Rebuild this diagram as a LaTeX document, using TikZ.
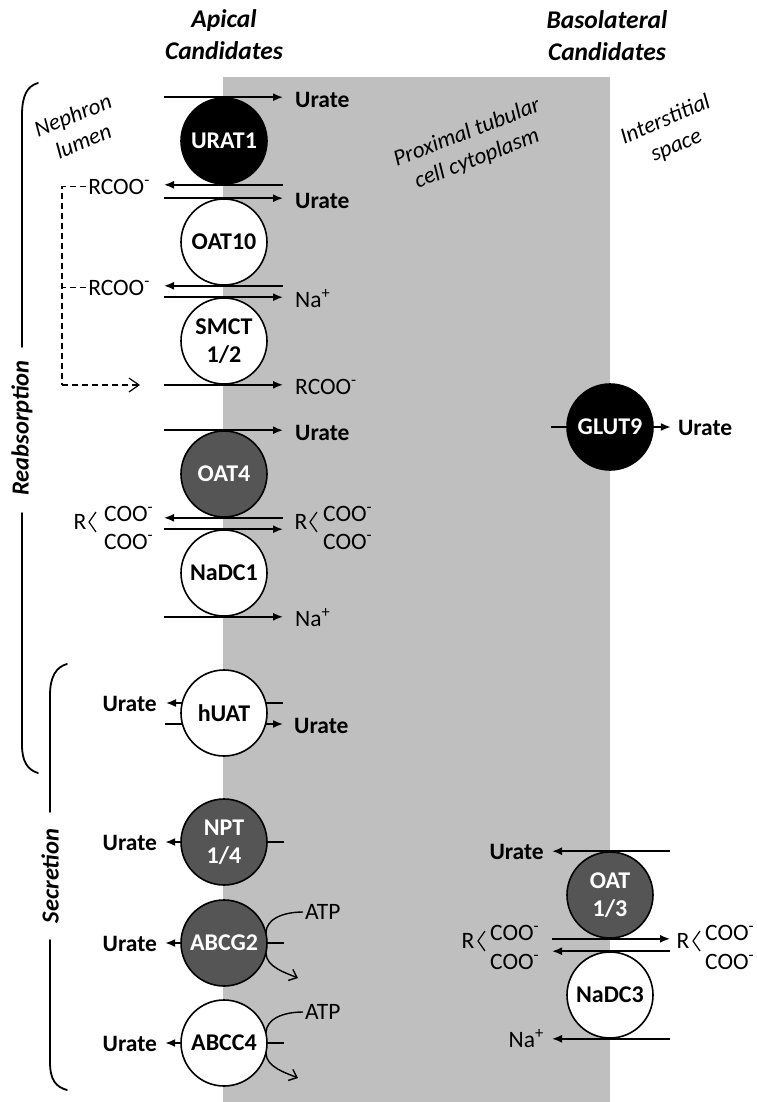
\documentclass[tikz,border=0pt]{standalone}
\usepackage{fontspec}
\setmainfont{Carlito}
\usetikzlibrary{arrows.meta,calc}
\definecolor{cellgray}{RGB}{191,191,191}
\definecolor{dkgray}{RGB}{85,85,85}
\begin{document}
\begin{tikzpicture}[x=1pt,y=-1pt,
  f/.style={font=\fontsize{23.5}{25}\selectfont, inner sep=2pt},
  bf/.style={font=\fontsize{23.5}{25}\selectfont\bfseries, inner sep=2pt},
  hd/.style={font=\fontsize{25.5}{32}\selectfont\bfseries\itshape, align=center},
  it/.style={font=\fontsize{23}{28}\selectfont\itshape, align=center},
  side/.style={font=\fontsize{24.5}{25}\selectfont\bfseries\itshape, rotate=90},
  tp/.style={circle, draw, line width=1.6pt, minimum size=86pt, inner sep=0pt, align=center, font=\fontsize{24}{28}\selectfont\bfseries},
  wt/.style={tp, fill=white},
  bk/.style={tp, fill=black, text=white},
  dk/.style={tp, fill=dkgray, text=white},
  arr/.style={line width=1.6pt, -{Latex[length=10pt,width=8pt]}},
  ln/.style={line width=1.6pt},
  chev/.style={line width=1.2pt},
  dsh/.style={line width=1.2pt, dash pattern=on 6pt off 4pt},
  brk/.style={line width=1.8pt, line cap=round},
  atpar/.style={line width=1.4pt, -{Straight Barb[length=7pt,width=12pt]}},
]
\useasboundingbox (0,0) rectangle (756,1102);
\fill[cellgray] (223,77) rectangle (610,1102);

% headings
\node[hd] (hap) at (224,35) {Apical\\Candidates};
\node[hd] (hbl) at (607,36) {Basolateral\\Candidates};
\node[it, rotate=22] (lum) at (78,128) {Nephron\\lumen};
\node[it, rotate=21] (cyt) at (472,146) {Proximal tubular\\cell cytoplasm};
\node[it, rotate=23] (int) at (671,133) {Interstitial\\space};

% brackets
\draw[brk] (38,83) .. controls (27,86) and (22,96) .. (22,115) -- (22,347);
\draw[brk] (22,513) -- (22,745) .. controls (22,762) and (28,770) .. (38,773);
\node[side] (reab) at (22,428) {Reabsorption};
\draw[brk] (67,664) .. controls (56,667) and (50,677) .. (50,695) -- (50,812);
\draw[brk] (50,940) -- (50,1062) .. controls (50,1080) and (56,1087) .. (67,1090);
\node[side] (secr) at (50,876) {Secretion};

% transporters
\node[bk] (urat) at (224,141) {URAT1};
\node[wt] (oat10) at (224,242) {OAT10};
\node[wt] (smct) at (224,341) {SMCT\\1/2};
\node[dk] (oat4) at (224,474) {OAT4};
\node[wt] (nadc1) at (224,573) {NaDC1};
\node[wt] (huat) at (224,713) {hUAT};
\node[dk] (npt) at (224,842) {NPT\\1/4};
\node[dk] (abcg) at (224,943) {ABCG2};
\node[wt] (abcc) at (224,1043) {ABCC4};
\node[bk] (glut) at (610,427) {GLUT9};
\node[dk] (oat13) at (610,895) {OAT\\1/3};
\node[wt] (nadc3) at (610,995) {NaDC3};

% URAT1
\draw[arr] ($(urat.north)+(-60,0)$) -- ($(urat.north)+(59,0)$);
\node[bf, anchor=west] (ur1) at ($(urat.north)+(69,3)$) {Urate};
\draw[arr] ($(urat.south)+(59,0)$) -- ($(urat.south)+(-60,0)$);
\node[f, anchor=east] (rc1) at ($(urat.south)+(-72,2)$) {RCOO\textsuperscript{-}};
% OAT10
\draw[arr] ($(oat10.north)+(-60,0)$) -- ($(oat10.north)+(59,0)$);
\node[bf, anchor=west] (ur2) at ($(oat10.north)+(69,3)$) {Urate};
\draw[arr] ($(oat10.south)+(59,0)$) -- ($(oat10.south)+(-60,0)$);
\node[f, anchor=east] (rc2) at ($(oat10.south)+(-72,2)$) {RCOO\textsuperscript{-}};
% SMCT
\draw[arr] ($(smct.north)+(-60,0)$) -- ($(smct.north)+(59,0)$);
\node[f, anchor=west] (na1) at ($(smct.north)+(69,1)$) {Na\textsuperscript{+}};
\draw[arr] ($(smct.south)+(-60,0)$) -- ($(smct.south)+(59,0)$);
\node[f, anchor=west] (rc3) at ($(smct.south)+(69,2)$) {RCOO\textsuperscript{-}};
% dashed recycling
\coordinate (dc) at (62,385);
\coordinate (da) at (140,385);
\draw[dsh] (rc1.west) -| (dc);
\draw[dsh] (rc2.west) -- (rc2.west -| dc);
\draw[dsh, -{Straight Barb[length=10pt,width=14pt]}] (dc) -- (da);
% OAT4
\draw[arr] ($(oat4.north)+(-60,0)$) -- ($(oat4.north)+(59,0)$);
\node[bf, anchor=west] (ur3) at ($(oat4.north)+(69,3)$) {Urate};
\draw[arr] ($(oat4.south)+(59,0)$) -- ($(oat4.south)+(-60,0)$);
% NaDC1
\draw[arr] ($(nadc1.north)+(-60,0)$) -- ($(nadc1.north)+(59,0)$);
\draw[arr] ($(nadc1.south)+(-60,0)$) -- ($(nadc1.south)+(59,0)$);
\node[f, anchor=west] (na2) at ($(nadc1.south)+(69,1)$) {Na\textsuperscript{+}};
% dicarboxylates apical
\node[f] (rl) at (80,522) {R};
\draw[chev] (96,512) -- (89,522) -- (96,532);
\node[f, anchor=west] (cl1) at (102,514) {COO\textsuperscript{-}};
\node[f, anchor=west] (cl2) at (102,542) {COO\textsuperscript{-}};
\node[f] (rr) at (301,522) {R};
\draw[chev] (317,512) -- (310,522) -- (317,532);
\node[f, anchor=west] (cr1) at (321,514) {COO\textsuperscript{-}};
\node[f, anchor=west] (cr2) at (321,542) {COO\textsuperscript{-}};
% hUAT
\draw[arr] ($(huat.center)+(-42,-10)$) -- ($(huat.center)+(-58,-10)$);
\draw[ln] ($(huat.center)+(42,-10)$) -- ($(huat.center)+(59,-10)$);
\draw[ln] ($(huat.center)+(-42,11)$) -- ($(huat.center)+(-59,11)$);
\draw[arr] ($(huat.center)+(42,11)$) -- ($(huat.center)+(59,11)$);
\node[bf, anchor=east] (ur4) at ($(huat.center)+(-65,-9)$) {Urate};
\node[bf, anchor=west] (ur5) at ($(huat.center)+(68,13)$) {Urate};
% NPT
\draw[arr] (npt.west) -- ++(-15,0);
\draw[ln] (npt.east) -- ++(16,0);
\node[bf, anchor=east] (ur6) at ($(npt.west)+(-21,1)$) {Urate};
% ABCG2
\draw[arr] (abcg.west) -- ++(-15,0);
\draw[ln] (abcg.east) -- ++(16,0);
\node[bf, anchor=east] (ur7) at ($(abcg.west)+(-21,1)$) {Urate};
\node[f, anchor=west] (atp1) at ($(abcg.center)+(79,-31)$) {ATP};
\draw[line width=1.4pt] (atp1.west) .. controls +(-20,0) and +(0,-14) .. ($(abcg.center)+(42,-10)$);
\draw[atpar] ($(abcg.center)+(42,10)$) .. controls +(0,14) and +(-12,-5) .. ($(abcg.center)+(74,35)$);
% ABCC4
\draw[arr] (abcc.west) -- ++(-15,0);
\draw[ln] (abcc.east) -- ++(16,0);
\node[bf, anchor=east] (ur8) at ($(abcc.west)+(-21,1)$) {Urate};
\node[f, anchor=west] (atp2) at ($(abcc.center)+(79,-31)$) {ATP};
\draw[line width=1.4pt] (atp2.west) .. controls +(-20,0) and +(0,-14) .. ($(abcc.center)+(42,-10)$);
\draw[atpar] ($(abcc.center)+(42,10)$) .. controls +(0,14) and +(-12,-5) .. ($(abcc.center)+(74,35)$);

% GLUT9
\draw[ln] (glut.west) -- ++(-15,0);
\draw[arr] (glut.east) -- ++(17,0);
\node[bf, anchor=west] (ur9) at ($(glut.east)+(22,1)$) {Urate};
% OAT1/3
\draw[arr] ($(oat13.north)+(60,0)$) -- ($(oat13.north)+(-58,0)$);
\node[bf, anchor=east] (ur10) at ($(oat13.north)+(-64,1)$) {Urate};
\draw[arr] ($(oat13.south)+(-58,0)$) -- ($(oat13.south)+(60,0)$);
% NaDC3
\draw[arr] ($(nadc3.north)+(60,0)$) -- ($(nadc3.north)+(-58,0)$);
\draw[arr] ($(nadc3.south)+(60,0)$) -- ($(nadc3.south)+(-58,0)$);
\node[f, anchor=east] (na3) at ($(nadc3.south)+(-64,0)$) {Na\textsuperscript{+}};
% dicarboxylates basolateral
\node[f] (bl) at (468,941) {R};
\draw[chev] (485,931) -- (478,941) -- (485,951);
\node[f, anchor=west] (bc1) at (488,933) {COO\textsuperscript{-}};
\node[f, anchor=west] (bc2) at (488,962) {COO\textsuperscript{-}};
\node[f] (br) at (683,941) {R};
\draw[chev] (700,931) -- (693,941) -- (700,951);
\node[f, anchor=west] (bd1) at (703,933) {COO\textsuperscript{-}};
\node[f, anchor=west] (bd2) at (703,962) {COO\textsuperscript{-}};
\end{tikzpicture}
\end{document}
